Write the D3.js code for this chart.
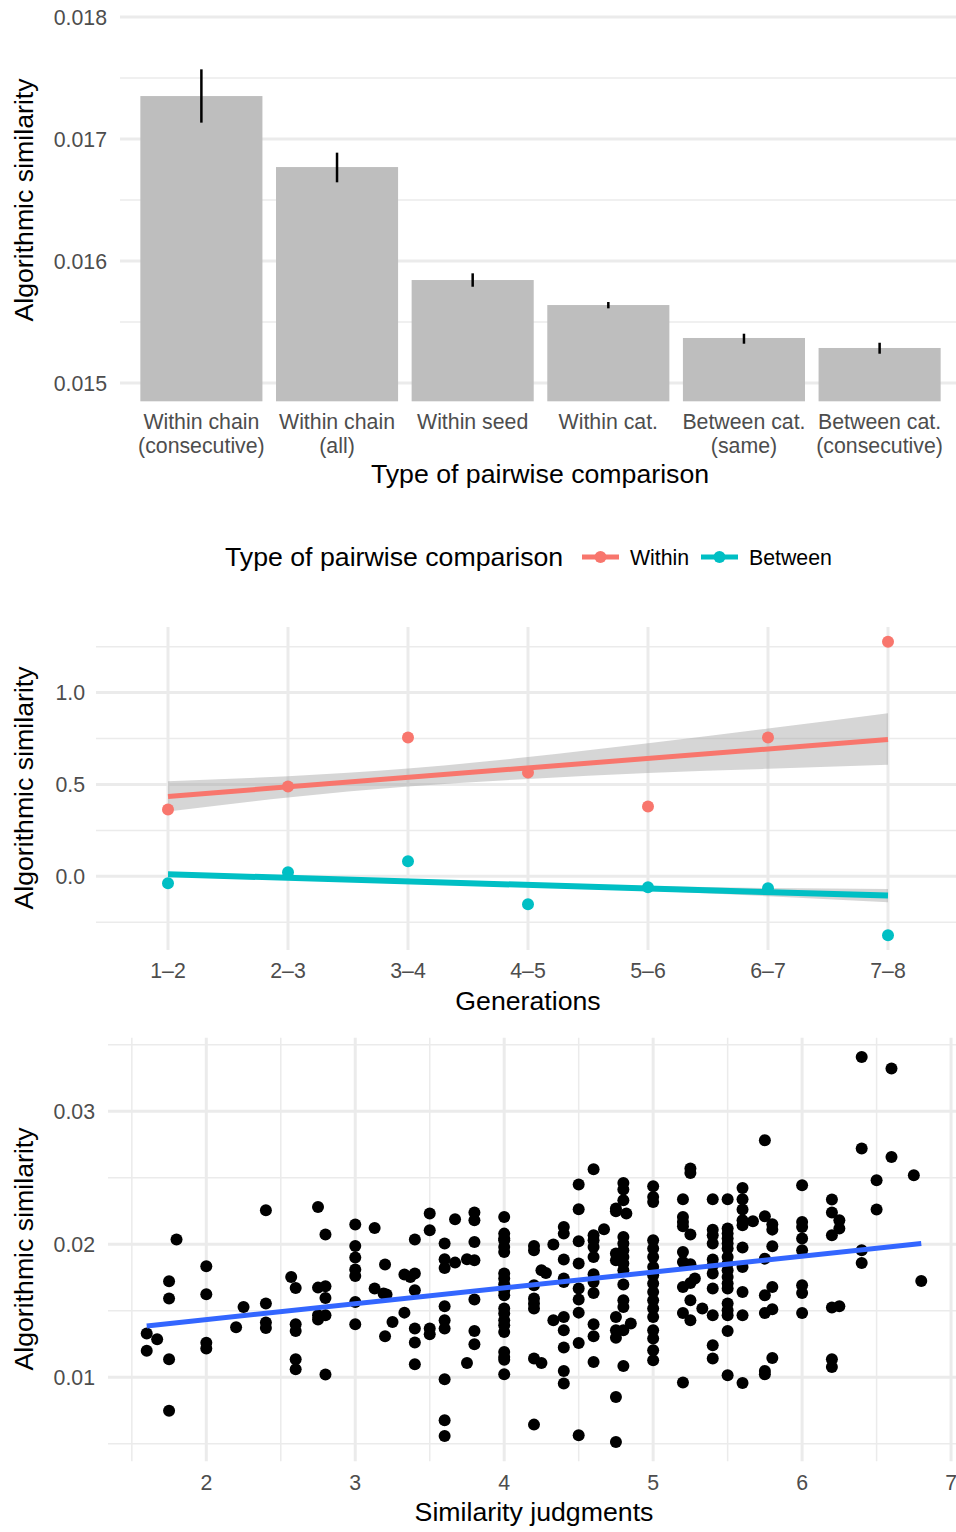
<!DOCTYPE html>
<html>
<head>
<meta charset="utf-8">
<script src="https://cdnjs.cloudflare.com/ajax/libs/d3/7.8.5/d3.min.js"></script>
<style>
body { margin: 0; background: #fff; }
svg text { font-family: "Liberation Sans", Arial, sans-serif; }
</style>
</head>
<body>
<div id="chart"></div>
<script>
// ---- top panel : bars ----
var barLabels = [["Within chain", "(consecutive)"], ["Within chain", "(all)"], ["Within seed"],
                 ["Within cat."], ["Between cat.", "(same)"], ["Between cat.", "(consecutive)"]];
var barMeans = [0.017352, 0.016770, 0.015844, 0.015639, 0.015369, 0.015287];
var barLow   = [0.017134, 0.016645, 0.015789, 0.015612, 0.015322, 0.015240];
var barHigh  = [0.017571, 0.016888, 0.015899, 0.015664, 0.015404, 0.015330];
var barTicks = [0.015, 0.016, 0.017, 0.018];
var barMinor = [0.0155, 0.0165, 0.0175];

// ---- middle panel : generations ----
var gens = ["1\u20132", "2\u20133", "3\u20134", "4\u20135", "5\u20136", "6\u20137", "7\u20138"];
var withinPts  = [0.364, 0.489, 0.755, 0.565, 0.380, 0.755, 1.277];
var betweenPts = [-0.038, 0.022, 0.082, -0.152, -0.060, -0.065, -0.321];
var withinFit  = [0.435, 0.745];   // fitted line at first and last generation
var betweenFit = [0.011, -0.105];
var withinLow   = [0.353, 0.429, 0.489, 0.530, 0.563, 0.585, 0.607];
var withinHigh  = [0.518, 0.545, 0.587, 0.649, 0.724, 0.804, 0.888];
var betweenLow  = [-0.001, -0.017, -0.036, -0.056, -0.079, -0.108, -0.141];
var betweenHigh = [0.023, 0.001, -0.020, -0.038, -0.053, -0.064, -0.069];
var genTicks = [0, 0.5, 1.0];
var genMinor = [-0.25, 0.25, 0.75, 1.25];

// ---- bottom panel : scatter (similarity judgment, algorithmic similarity) ----
var simPoints = [
  [1.6,0.01329],[1.6,0.01199],[1.67,0.01286],
  [1.75,0.01722],[1.75,0.01592],[1.75,0.01135],[1.75,0.00748],[1.8,0.02035],
  [2,0.01835],[2,0.01624],[2,0.01259],[2,0.01216],[2.2,0.01376],[2.25,0.01529],
  [2.4,0.02256],[2.4,0.01554],[2.4,0.01411],[2.4,0.01371],[2.57,0.01754],
  [2.6,0.01671],[2.6,0.01398],[2.6,0.01348],[2.6,0.01135],[2.6,0.0106],
  [2.75,0.0228],[2.75,0.01674],[2.75,0.01466],[2.75,0.01434],
  [2.8,0.02073],[2.8,0.01684],[2.8,0.01596],[2.8,0.01466],[2.8,0.0102],
  [3,0.02148],[3,0.01987],[3,0.019],[3,0.0181],[3,0.01762],[3,0.01566],[3,0.01398],
  [3.13,0.02123],[3.13,0.01667],[3.2,0.01847],[3.19,0.01629],[3.2,0.01308],[3.21,0.01622],[3.25,0.01416],
  [3.33,0.01772],[3.33,0.01486],[3.37,0.01754],
  [3.4,0.0178],[3.4,0.01654],[3.4,0.02035],[3.4,0.01366],[3.4,0.01261],[3.4,0.01098],
  [3.5,0.02231],[3.5,0.02105],[3.5,0.01366],[3.5,0.01323],
  [3.6,0.02005],[3.6,0.01887],[3.6,0.01822],[3.6,0.01534],[3.6,0.01429],[3.6,0.01366],
  [3.6,0.00985],[3.6,0.00677],[3.6,0.00559],[3.67,0.01862],[3.67,0.02188],
  [3.75,0.01887],[3.75,0.01108],
  [3.8,0.02238],[3.8,0.0218],[3.8,0.02017],[3.8,0.0188],[3.8,0.01584],[3.8,0.01348],[3.8,0.01248],
  [4,0.02205],[4,0.0208],[4,0.0203],[4,0.0198],[4,0.01942],[4,0.0178],[4,0.01742],[4,0.01699],
  [4,0.01654],[4,0.01617],[4,0.01517],[4,0.01479],[4,0.01429],[4,0.01391],[4,0.01341],
  [4,0.0119],[4,0.01153],[4,0.01023],[4,0.02043],[4,0.01131],
  [4.2,0.01987],[4.2,0.01955],[4.2,0.01692],[4.2,0.01592],[4.2,0.01554],[4.2,0.01517],[4.2,0.01141],[4.2,0.00644],
  [4.25,0.01805],[4.25,0.01108],[4.28,0.01784],[4.33,0.01998],[4.33,0.01429],
  [4.4,0.0213],[4.4,0.0208],[4.4,0.01885],[4.4,0.01742],[4.4,0.01717],[4.4,0.01453],[4.4,0.01353],
  [4.4,0.01223],[4.4,0.01047],[4.4,0.00953],
  [4.5,0.02449],[4.5,0.02263],[4.5,0.02023],[4.5,0.01855],[4.5,0.01667],[4.5,0.01584],[4.5,0.01486],
  [4.5,0.01258],[4.5,0.00564],
  [4.6,0.02564],[4.6,0.02068],[4.6,0.0203],[4.6,0.0198],[4.6,0.01905],[4.6,0.01774],[4.6,0.01717],
  [4.6,0.01634],[4.6,0.01398],[4.6,0.01308],[4.6,0.01115],[4.67,0.02113],
  [4.75,0.02268],[4.75,0.02248],[4.75,0.0193],[4.75,0.0188],[4.75,0.01453],[4.75,0.01353],[4.75,0.01298],
  [4.75,0.00852],[4.75,0.00514],
  [4.8,0.02461],[4.8,0.02411],[4.8,0.02331],[4.8,0.02055],[4.8,0.02005],[4.8,0.01955],[4.8,0.01905],
  [4.8,0.01855],[4.8,0.01805],[4.8,0.01697],[4.8,0.01579],[4.8,0.01529],[4.8,0.01353],[4.8,0.01085],
  [4.82,0.02231],[4.85,0.01404],
  [5,0.02436],[5,0.02356],[5,0.02318],[5,0.0203],[5,0.01968],[5,0.01905],[5,0.01829],[5,0.01767],
  [5,0.01705],[5,0.01641],[5,0.01579],[5,0.01517],[5,0.01453],[5,0.01353],[5,0.01291],[5,0.01203],[5,0.01128],
  [5.2,0.02338],[5.2,0.02205],[5.2,0.02168],[5.2,0.02135],[5.2,0.01942],[5.2,0.01867],[5.2,0.01679],
  [5.2,0.01484],[5.2,0.0096],
  [5.25,0.02569],[5.25,0.02536],[5.25,0.02073],[5.25,0.0185],[5.25,0.01709],[5.25,0.01579],[5.25,0.01429],
  [5.28,0.01742],[5.33,0.01517],
  [5.4,0.02338],[5.4,0.0211],[5.4,0.02068],[5.4,0.02005],[5.4,0.01885],[5.4,0.01842],[5.4,0.0178],
  [5.4,0.01667],[5.4,0.01466],[5.4,0.01241],[5.4,0.01141],
  [5.5,0.02338],[5.5,0.02118],[5.5,0.0208],[5.5,0.02043],[5.5,0.02005],[5.5,0.01968],[5.5,0.01905],
  [5.5,0.01855],[5.5,0.01805],[5.5,0.01754],[5.5,0.01705],[5.5,0.01667],[5.5,0.01554],[5.5,0.01504],
  [5.5,0.01466],[5.5,0.01348],[5.5,0.01015],
  [5.6,0.02423],[5.6,0.02338],[5.6,0.02261],[5.6,0.0218],[5.6,0.02143],[5.6,0.01975],[5.6,0.01829],
  [5.6,0.01641],[5.6,0.01466],[5.6,0.00957],[5.67,0.02173],
  [5.75,0.02782],[5.75,0.0221],[5.75,0.01892],[5.75,0.01617],[5.75,0.01484],[5.75,0.01047],[5.75,0.01023],
  [5.8,0.0215],[5.8,0.0211],[5.8,0.01985],[5.8,0.01679],[5.8,0.01511],[5.8,0.01145],
  [6,0.02444],[6,0.02168],[6,0.0213],[6,0.02043],[6,0.01955],[6,0.01692],[6,0.01634],[6,0.01484],
  [6.2,0.02336],[6.2,0.02238],[6.2,0.02068],[6.2,0.01524],[6.2,0.01135],[6.2,0.01077],
  [6.25,0.0218],[6.25,0.02118],[6.25,0.01534],
  [6.4,0.03408],[6.4,0.0272],[6.4,0.01955],[6.4,0.01859],
  [6.5,0.02481],[6.5,0.02261],[6.6,0.03321],[6.6,0.02656],[6.75,0.02519],[6.8,0.01724]
];
var simFit = [[1.6, 0.01386], [6.8, 0.02005]];   // regression line ends
var simXTicks = [2, 3, 4, 5, 6, 7];
var simXMinor = [1.5, 2.5, 3.5, 4.5, 5.5, 6.5];
var simYTicks = [0.01, 0.02, 0.03];
var simYMinor = [0.005, 0.015, 0.025, 0.035];

var textGrey = "#4d4d4d";
var gridCol = "#ebebeb";
var axisSize = 21.3;
var titleSize = 26.7;
var red = "#F8766D", teal = "#00BFC4";

var svg = d3.select("#chart").append("svg")
    .attr("width", 956)
    .attr("height", 1532);

function hGrid(g, vals, y, x0, x1, w) {
    g.selectAll(null).data(vals).enter().append("line")
        .attr("x1", x0).attr("x2", x1)
        .attr("y1", function (d) { return y(d); })
        .attr("y2", function (d) { return y(d); })
        .attr("stroke", gridCol).attr("stroke-width", w);
}
function vGrid(g, vals, x, y0, y1, w) {
    g.selectAll(null).data(vals).enter().append("line")
        .attr("y1", y0).attr("y2", y1)
        .attr("x1", function (d) { return x(d); })
        .attr("x2", function (d) { return x(d); })
        .attr("stroke", gridCol).attr("stroke-width", w);
}
function yTitle(cx, cy) {
    svg.append("text")
        .attr("transform", "translate(" + cx + "," + cy + ") rotate(-90)")
        .attr("text-anchor", "middle")
        .attr("font-size", titleSize)
        .attr("fill", "#000")
        .text("Algorithmic similarity");
}

//top chart
var bx = d3.scaleBand().domain(d3.range(barMeans.length)).range([120, 961])
    .paddingInner(0.1).paddingOuter(0.15);
var by = d3.scaleLinear().domain([0.01485, 0.01815]).range([401.3, -1.3]);
var topG = svg.append("g");
hGrid(topG, barMinor, by, 120, 956, 1.5);
hGrid(topG, barTicks, by, 120, 956, 3);

topG.selectAll("rect").data(barMeans).enter().append("rect")
    .attr("x", function (d, i) { return bx(i); })
    .attr("width", bx.bandwidth())
    .attr("y", function (d) { return by(d); })
    .attr("height", function (d) { return by.range()[0] - by(d); })
    .attr("fill", "#bebebe");

topG.selectAll(".err").data(barMeans).enter().append("line")
    .attr("x1", function (d, i) { return bx(i) + bx.bandwidth() / 2; })
    .attr("x2", function (d, i) { return bx(i) + bx.bandwidth() / 2; })
    .attr("y1", function (d, i) { return by(barLow[i]); })
    .attr("y2", function (d, i) { return by(barHigh[i]); })
    .attr("stroke", "#000").attr("stroke-width", 2.5);

topG.selectAll(".ytick").data(barTicks).enter().append("text")
    .attr("x", 107).attr("y", function (d) { return by(d); })
    .attr("dy", "0.36em").attr("text-anchor", "end")
    .attr("font-size", axisSize).attr("fill", textGrey)
    .text(function (d) { return d3.format(".3f")(d); });

barLabels.forEach(function (lines, i) {
    var t = topG.append("text")
        .attr("text-anchor", "middle")
        .attr("font-size", axisSize).attr("fill", textGrey);
    lines.forEach(function (s, j) {
        t.append("tspan")
            .attr("x", bx(i) + bx.bandwidth() / 2)
            .attr("y", 429 + j * 24)
            .text(s);
    });
});
svg.append("text").attr("x", 540).attr("y", 483)
    .attr("text-anchor", "middle").attr("font-size", titleSize)
    .text("Type of pairwise comparison");
yTitle(33, 200);

//middle chart : legend
var leg = svg.append("g");
leg.append("text").attr("x", 225).attr("y", 566)
    .attr("font-size", titleSize).text("Type of pairwise comparison");
var legItems = [["Within", red, 582], ["Between", teal, 701]];
legItems.forEach(function (it) {
    leg.append("line").attr("x1", it[2]).attr("x2", it[2] + 37)
        .attr("y1", 557).attr("y2", 557)
        .attr("stroke", it[1]).attr("stroke-width", 5);
    leg.append("circle").attr("cx", it[2] + 18.5).attr("cy", 557).attr("r", 6)
        .attr("fill", it[1]);
    leg.append("text").attr("x", it[2] + 48).attr("y", 564.5)
        .attr("font-size", axisSize).text(it[0]);
});

var gx = d3.scalePoint().domain(gens).range([96, 960]).padding(0.6);
var gy = d3.scaleLinear().domain([-0.401, 1.357]).range([950, 627]);
var midG = svg.append("g");
hGrid(midG, genMinor, gy, 96, 956, 1.5);
hGrid(midG, genTicks, gy, 96, 956, 3);
vGrid(midG, gens, gx, 627, 950, 3);

function drawSeries(pts, fit, low, high, col, lw) {
    var area = d3.area()
        .x(function (d, i) { return gx(gens[i]); })
        .y0(function (d, i) { return gy(low[i]); })
        .y1(function (d, i) { return gy(high[i]); })
        .curve(d3.curveMonotoneX);
    midG.append("path").datum(low).attr("d", area)
        .attr("fill", "#999999").attr("fill-opacity", 0.4);
    midG.append("line")
        .attr("x1", gx(gens[0])).attr("x2", gx(gens[gens.length - 1]))
        .attr("y1", gy(fit[0])).attr("y2", gy(fit[1]))
        .attr("stroke", col).attr("stroke-width", lw);
    midG.selectAll(null).data(pts).enter().append("circle")
        .attr("cx", function (d, i) { return gx(gens[i]); })
        .attr("cy", function (d) { return gy(d); })
        .attr("r", 6).attr("fill", col);
}
drawSeries(withinPts, withinFit, withinLow, withinHigh, red, 5);
drawSeries(betweenPts, betweenFit, betweenLow, betweenHigh, teal, 6);

midG.selectAll(".ytick").data(genTicks).enter().append("text")
    .attr("x", 85).attr("y", function (d) { return gy(d); })
    .attr("dy", "0.36em").attr("text-anchor", "end")
    .attr("font-size", axisSize).attr("fill", textGrey)
    .text(function (d) { return d3.format(".1f")(d); });
midG.selectAll(".xtick").data(gens).enter().append("text")
    .attr("x", function (d) { return gx(d); }).attr("y", 978)
    .attr("text-anchor", "middle")
    .attr("font-size", axisSize).attr("fill", textGrey)
    .text(function (d) { return d; });
svg.append("text").attr("x", 528).attr("y", 1010)
    .attr("text-anchor", "middle").attr("font-size", titleSize)
    .text("Generations");
yTitle(33, 788);

//bottom chart : scatter
var sx = d3.scaleLinear().domain([1.34, 7.06]).range([108, 960]);
var sy = d3.scaleLinear().domain([0.00369, 0.03553]).range([1461.2, 1037.7]);
var botG = svg.append("g");
hGrid(botG, simYMinor, sy, 108, 956, 1.5);
hGrid(botG, simYTicks, sy, 108, 956, 3);
vGrid(botG, simXMinor, sx, 1037.7, 1461.2, 1.5);
vGrid(botG, simXTicks, sx, 1037.7, 1461.2, 3);

botG.selectAll("circle").data(simPoints).enter().append("circle")
    .attr("cx", function (d) { return sx(d[0]); })
    .attr("cy", function (d) { return sy(d[1]); })
    .attr("r", 6).attr("fill", "#000");

botG.append("line")
    .attr("x1", sx(simFit[0][0])).attr("y1", sy(simFit[0][1]))
    .attr("x2", sx(simFit[1][0])).attr("y2", sy(simFit[1][1]))
    .attr("stroke", "#3366FF").attr("stroke-width", 5);

botG.selectAll(".ytick").data(simYTicks).enter().append("text")
    .attr("x", 95).attr("y", function (d) { return sy(d); })
    .attr("dy", "0.36em").attr("text-anchor", "end")
    .attr("font-size", axisSize).attr("fill", textGrey)
    .text(function (d) { return d3.format(".2f")(d); });
botG.selectAll(".xtick").data(simXTicks).enter().append("text")
    .attr("x", function (d) { return sx(d); }).attr("y", 1490)
    .attr("text-anchor", "middle")
    .attr("font-size", axisSize).attr("fill", textGrey)
    .text(function (d) { return d; });
svg.append("text").attr("x", 534).attr("y", 1521)
    .attr("text-anchor", "middle").attr("font-size", titleSize)
    .text("Similarity judgments");
yTitle(33, 1249);
</script>
</body>
</html>
